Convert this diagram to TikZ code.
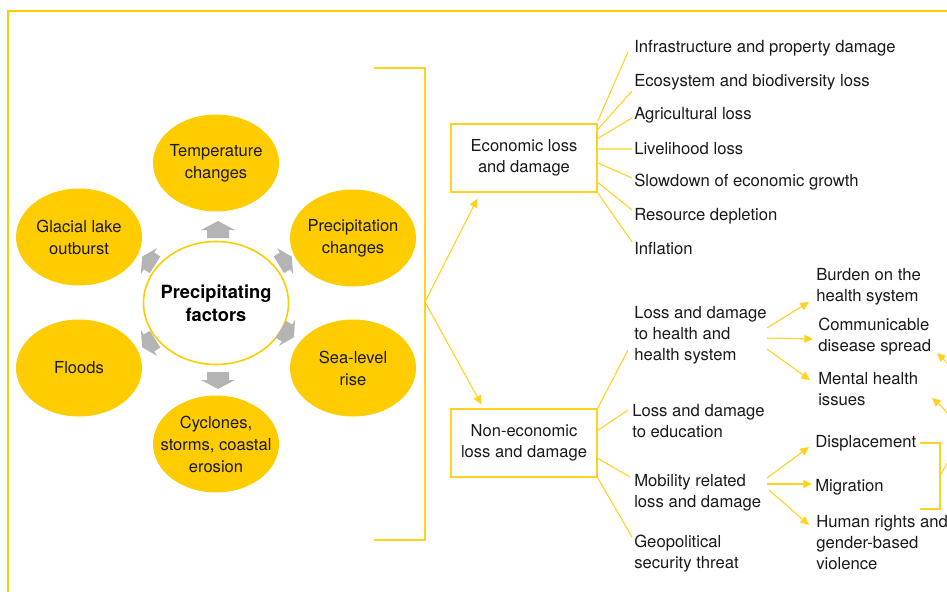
\documentclass[tikz,border=0pt]{standalone}
\usepackage{fontspec}
\setmainfont{TeX Gyre Heros}
\usetikzlibrary{shapes.geometric,arrows.meta,calc}
\definecolor{gold}{HTML}{FFCC00}
\definecolor{linegold}{HTML}{FFD21F}
\definecolor{agray}{HTML}{B4B4B4}
\definecolor{txt}{HTML}{1A1A1A}
\tikzset{
  blockarrow/.pic={\fill[agray] (-8,-11) -- (0,-11) -- (0,-17) -- (9,0) -- (0,17) -- (0,11) -- (-8,11) -- cycle;},
  blob/.style={fill=gold},
  hubring/.style={draw=gold, line width=1.2pt, fill=white},
  factor/.style={inner sep=0pt, align=center, text=txt, font=\fontsize{12.4}{16.5}\selectfont},
  hubnode/.style={inner sep=0pt, align=center, text=black, font=\fontsize{13.7}{17}\selectfont\bfseries},
  lossbox/.style={draw=linegold, line width=0.9pt, minimum width=109.5pt, minimum height=51pt, inner sep=0pt, align=center, text=txt, font=\fontsize{12.4}{15.75}\selectfont},
  item/.style={anchor=west, align=left, inner sep=0pt, text=txt, font=\fontsize{12.5}{15.75}\selectfont},
  conn/.style={draw=linegold, line width=0.8pt},
  arr/.style={conn, -{Triangle[length=6.5pt,width=6pt]}},
}
\newcommand\factorblob[3]{\fill[blob] (#1) ellipse [x radius=63, y radius=48.5];
  \node[factor] (#2) at (#1) {#3};}
\begin{document}
\begin{tikzpicture}[x=0.75pt,y=-0.75pt]
\useasboundingbox (0,0) rectangle (947,592);
\clip (0,0) rectangle (947,592);
% frame
\draw[gold, line width=1.6pt] (8,592) -- (8,11) -- (947,11);

% precipitating factors
\draw[hubring] (216,303) ellipse [x radius=72.5, y radius=61.5];
\node[hubnode] (hub) at (216,303) {Precipitating\\factors};
\factorblob{216,163}{temp}{Temperature\\changes}
\factorblob{353,238}{precip}{Precipitation\\changes}
\factorblob{353,368}{sea}{Sea-level\\rise}
\factorblob{216,444}{cyc}{Cyclones,\\storms, coastal\\erosion}
\factorblob{79,368}{flood}{Floods}
\factorblob{79,237}{glac}{Glacial lake\\outburst}

\pic[rotate=90] at (218,230) {blockarrow};
\pic[rotate=-90] at (218,380) {blockarrow};
\pic[rotate=32, scale=0.9] at (285,261) {blockarrow};
\pic[rotate=-32, scale=0.9] at (287,333) {blockarrow};
\pic[rotate=148, scale=0.9] at (149,261) {blockarrow};
\pic[rotate=212, scale=0.9] at (149,343) {blockarrow};

% bracket
\coordinate (split) at (425,302);
\draw[conn] (374,68) -| (425,540) -- (374,540);

% loss boxes
\node[lossbox] (econ) at (524,158) {Economic loss\\and damage};
\node[lossbox] (nonecon) at (524,443) {Non-economic\\loss and damage};
\draw[arr] (split) -- ($(econ.south west)+(27,6)$);
\draw[arr] (split) -- ($(nonecon.north west)+(31,-4)$);

% economic items
\node[item] (infra) at (634,48) {Infrastructure and property damage};
\node[item] (eco) at (634,82) {Ecosystem and biodiversity loss};
\node[item] (agri) at (634,115) {Agricultural loss};
\node[item] (live) at (634,149) {Livelihood loss};
\node[item] (slow) at (634,182) {Slowdown of economic growth};
\node[item] (res) at (634,216) {Resource depletion};
\node[item] (infl) at (634,249) {Inflation};

\draw[conn] ($(econ.north east)+(0,-2)$) -- ($(infra.west)+(-6,4)$);
\draw[conn] ($(econ.north east)!0.09!(econ.south east)$) -- ($(eco.west)+(-2,9)$);
\draw[conn] ($(econ.north east)!0.22!(econ.south east)$) -- ($(agri.west)+(-2,3)$);
\draw[conn] ($(econ.north east)!0.37!(econ.south east)$) -- ($(live.west)+(-2,0)$);
\draw[conn] ($(econ.north east)!0.57!(econ.south east)$) -- ($(slow.west)+(-2,-4)$);
\draw[conn] ($(econ.north east)!0.85!(econ.south east)$) -- ($(res.west)+(-2,-6)$);
\draw[conn] (econ.south east) -- ($(infl.west)+(-2,-7)$);

% non-economic items
\node[item] (health) at (634,335) {Loss and damage\\to health and\\health system};
\node[item] (edu) at (632,421) {Loss and damage\\to education};
\node[item] (mob) at (634,493) {Mobility related\\loss and damage};
\node[item] (geo) at (634,554) {Geopolitical\\security threat};

\draw[conn] (nonecon.north east) -- ($(health.west)+(-6,15)$);
\draw[conn] ($(nonecon.north east)!0.32!(nonecon.south east)$) -- ($(edu.west)+(-4,-11)$);
\draw[conn] ($(nonecon.north east)!0.72!(nonecon.south east)$) -- ($(mob.west)+(-4,-16)$);
\draw[conn] (nonecon.south east) -- ($(geo.west)+(-2,-17)$);

% health sub-items
\node[item] (burden) at (816,287) {Burden on the\\health system};
\node[item] (comm) at (818,337) {Communicable\\disease spread};
\node[item] (mental) at (818,389) {Mental health\\issues};
\coordinate (h1) at (767,328);
\coordinate (h2) at (767,338);
\coordinate (h3) at (767,349);
\draw[arr] (h1) -- ($(burden.west)+(-7,15)$);
\draw[arr] (h2) -- ($(comm.west)+(-5,2)$);
\draw[arr] (h3) -- ($(mental.west)+(-8,-9)$);

% mobility sub-items
\node[item] (disp) at (815,443) {Displacement};
\node[item] (migr) at (815,487) {Migration};
\node[item] (rights) at (816,543) {Human rights and\\gender-based\\violence};
\coordinate (m1) at (767,478);
\coordinate (m2) at (767,484);
\coordinate (m3) at (769,490);
\draw[arr] (m1) -- ($(disp.west)+(-6,4)$);
\draw[arr] (m2) -- ($(migr.west)+(-3,-3)$);
\draw[arr] (m3) -- ($(rights.west)+(-7,-18)$);

% right bracket and return arrows
\coordinate (bt) at (920,443);
\coordinate (bb) at (920,509);
\coordinate (bmid) at (940,476);
\coordinate (rhub) at (960,440);
\draw[conn] (bt) -- (940,443) -- (940,509) -- (bb);
\draw[conn] (bmid) -- (rhub);
\draw[arr] (rhub) .. controls (962,395) and (955,370) .. (937,353);
\draw[arr] (rhub) .. controls (957,425) and (946,410) .. (932,398);
\end{tikzpicture}
\end{document}
